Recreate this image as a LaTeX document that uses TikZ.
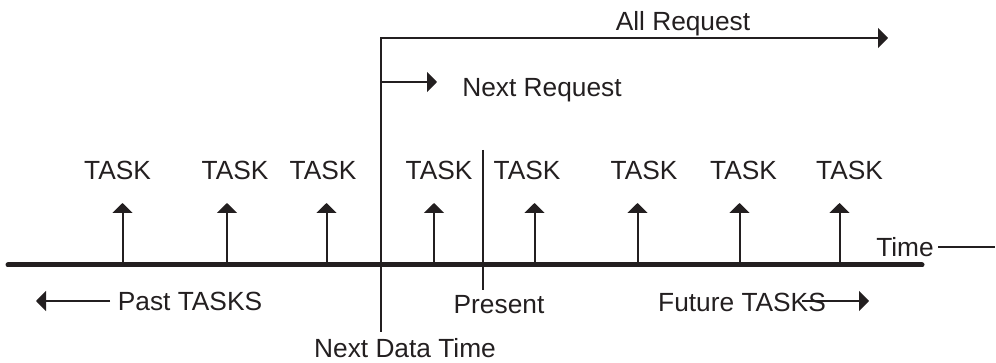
\documentclass[tikz,border=0pt]{standalone}
\usepackage{fontspec}
\setmainfont{Liberation Sans}
\usetikzlibrary{arrows.meta}
\definecolor{ink}{HTML}{231F20}
\begin{document}
\begin{tikzpicture}[x=1pt,y=-1pt,
  lbl/.style={inner sep=0pt,anchor=base,text=ink,font=\fontsize{26.3}{30}\selectfont},
  tip/.style={-{Triangle[length=10pt,width=20pt]}},
  thin line/.style={draw=ink,line width=2pt},
  axis/.style={draw=ink,line width=5pt,line cap=round}]
\useasboundingbox (0,0) rectangle (996,363);
% axis
\coordinate (axL) at (8,265);
\coordinate (axR) at (922,265);
\draw[axis] (axL) -- (axR);
% task arrows and labels
\foreach \i/\ax/\lx in {1/122.5/117.5, 2/227/235, 3/326.5/323, 4/434/439, 5/534.5/527, 6/637.5/644, 7/739.5/743.5, 8/839.5/849.5}{
  \coordinate (b\i) at (\ax,265);
  \coordinate (t\i) at (\ax,203);
  \draw[thin line,tip] (b\i) -- (t\i);
  \node[lbl] (task\i) at (\lx,180) {TASK};
}
% Next data time line and request arrows
\coordinate (ndTop) at (381,38);
\coordinate (ndBot) at (381,331);
\coordinate (allEnd) at (888,38);
\coordinate (nrStart) at (381,82);
\coordinate (nrEnd) at (437,82);
\draw[thin line,line cap=rect] (ndBot) -- (ndTop);
\draw[thin line,tip] (ndTop) -- (allEnd);
\draw[thin line,tip] (nrStart) -- (nrEnd);
\node[lbl] (allreq) at (683,31) {All Request};
\node[lbl] (nextreq) at (542,97) {Next Request};
\node[lbl] (ndt) at (405,357) {Next Data Time};
% present line
\coordinate (prTop) at (483,150);
\coordinate (prBot) at (483,290);
\draw[thin line] (prTop) -- (prBot);
\node[lbl] (present) at (499,313) {Present};
% past / future
\node[lbl] (past) at (190,311) {Past TASKS};
\coordinate (pastS) at (110,301);
\coordinate (pastE) at (36,301);
\draw[thin line,tip] (pastS) -- (pastE);
\node[lbl] (future) at (742,312) {Future TASKS};
\coordinate (futS) at (802,301);
\coordinate (futE) at (869,301);
\draw[thin line,tip] (futS) -- (futE);
% time
\node[lbl] (time) at (905,257) {Time};
\coordinate (timeS) at (938,247);
\coordinate (timeE) at (995,247);
\draw[thin line] (timeS) -- (timeE);
\end{tikzpicture}
\end{document}
